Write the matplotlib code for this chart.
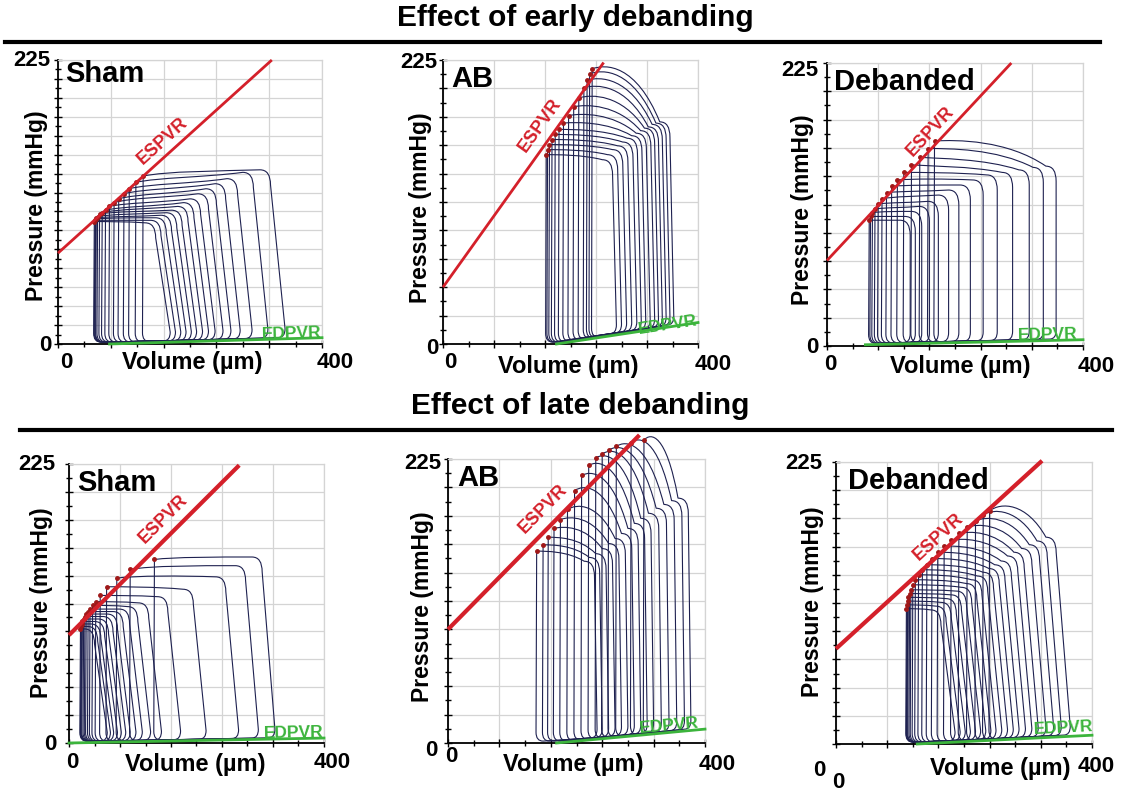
import numpy as np
import matplotlib.pyplot as plt
from matplotlib.path import Path
from matplotlib.patches import PathPatch
from matplotlib.lines import Line2D

plt.rcParams["font.family"] = ["Liberation Sans", "DejaVu Sans"]

W, H = 1130, 793

# ---------------- data (volume in um, pressure in mmHg) ----------------
# early debanding - Sham
sham1_esv = [55, 56, 57, 58, 60, 63, 67, 72, 78, 85, 92, 100, 108, 118, 129]
sham1_esp = [97, 98, 99, 100, 101, 103, 104, 106, 109, 112, 115, 119, 123, 128, 133]
sham1_edv = [170, 178, 186, 194, 202, 210, 219, 228, 238, 250, 262, 276, 294, 318, 344]
sham1_ptr = [96, 98, 100, 102, 104, 106, 109, 112, 115, 119, 123, 127, 131, 136, 138]
sham1_ppk = [97, 98, 100, 101, 103, 105, 107, 109, 112, 116, 119, 123, 127, 132, 137]
sham1_espvr = ([0, 324], [72, 225])
sham1_edpvr = ([78, 400], [0, 5])

# early debanding - AB
ab1_esv = [162, 164, 167, 171, 176, 182, 189, 197, 205, 213, 221, 226, 230, 234]
ab1_esp = [150, 154, 158, 162, 166, 170, 175, 181, 188, 195, 203, 209, 214, 218]
ab1_edv = [272, 280, 288, 296, 304, 311, 318, 325, 332, 338, 344, 350, 356, 362]
ab1_ptr = [146, 150, 154, 157, 160, 163, 165, 167, 169, 171, 172, 174, 175, 176]
ab1_ppk = [150, 154, 158, 162, 166, 170, 176, 183, 190, 198, 206, 212, 218, 222]
ab1_espvr = ([0, 252], [45, 223])
ab1_edpvr = ([178, 400], [0, 17])

# early debanding - Debanded
deb1_esv = [66, 68, 71, 75, 80, 86, 93, 101, 110, 120, 132, 145, 158, 168]
deb1_esp = [100, 103, 106, 109, 113, 117, 122, 127, 132, 138, 144, 150, 157, 163]
deb1_edv = [130, 138, 148, 160, 174, 190, 206, 224, 244, 266, 290, 316, 338, 358]
deb1_ptr = [100, 103, 107, 111, 115, 120, 124, 128, 132, 136, 138, 140, 142, 143]
deb1_ppk = [100, 103, 107, 110, 114, 119, 123, 128, 133, 138, 143, 149, 157, 164]
deb1_espvr = ([0, 288], [68, 225])
deb1_edpvr = ([60, 400], [1, 5])

# late debanding - Sham
sham2_esv = [18, 19, 20, 21, 23, 25, 27, 30, 33, 37, 42, 49, 59, 75, 96, 134]
sham2_esp = [92, 94, 96, 98, 100, 102, 104, 106, 108, 111, 114, 119, 126, 133, 140, 148]
sham2_edv = [60, 65, 70, 76, 82, 89, 96, 105, 115, 128, 145, 175, 215, 266, 297, 323]
sham2_ptr = [92, 94, 96, 98, 100, 102, 104, 106, 108, 110, 113, 118, 124, 134, 143, 150]
sham2_ppk = [92, 94, 96, 98, 100, 102, 104, 106, 108, 111, 114, 119, 126, 135, 143, 150]
sham2_espvr = ([0, 267], [87, 224])
sham2_edpvr = ([0, 400], [0, 4])

# late debanding - AB
ab2_esv = [138, 148, 156, 165, 175, 186, 197, 208, 219, 230, 240, 250, 262, 285, 305]
ab2_esp = [152, 157, 163, 170, 177, 185, 200, 212, 220, 226, 229, 232, 235, 238, 240]
ab2_edv = [232, 240, 250, 260, 270, 280, 290, 300, 310, 320, 332, 344, 356, 368, 378]
ab2_ptr = [144, 147, 150, 154, 158, 162, 166, 170, 174, 178, 182, 186, 189, 192, 194]
ab2_ppk = [152, 157, 163, 172, 180, 190, 205, 216, 224, 230, 234, 237, 240, 243, 246]
ab2_espvr = ([0, 298], [90, 244])
ab2_edpvr = ([169, 400], [0, 11])

# late debanding - Debanded
deb2_esv = [110, 111, 112, 113, 115, 117, 120, 124, 129, 135, 142, 150, 159, 169, 180, 192, 205, 218, 230, 240]
deb2_esp = [108, 111, 114, 117, 120, 123, 127, 131, 135, 139, 143, 148, 153, 158, 163, 168, 173, 178, 183, 186]
deb2_edv = [186, 194, 202, 210, 218, 226, 234, 242, 250, 259, 268, 277, 286, 296, 306, 316, 328, 340, 352, 366]
deb2_ptr = [107, 110, 113, 116, 119, 122, 125, 128, 131, 134, 137, 140, 143, 146, 150, 153, 156, 159, 162, 165]
deb2_ppk = [108, 111, 114, 117, 120, 123, 127, 131, 135, 139, 143, 148, 153, 158, 164, 170, 176, 182, 188, 193]
deb2_espvr = ([0, 322], [76, 226])
deb2_edpvr = ([127, 400], [0, 7])

panels = [
    dict(name="Sham", esv=sham1_esv, esp=sham1_esp, edv=sham1_edv, ptr=sham1_ptr, ppk=sham1_ppk,
         espvr=sham1_espvr, edpvr=sham1_edpvr),
    dict(name="AB", esv=ab1_esv, esp=ab1_esp, edv=ab1_edv, ptr=ab1_ptr, ppk=ab1_ppk,
         espvr=ab1_espvr, edpvr=ab1_edpvr),
    dict(name="Debanded", esv=deb1_esv, esp=deb1_esp, edv=deb1_edv, ptr=deb1_ptr, ppk=deb1_ppk,
         espvr=deb1_espvr, edpvr=deb1_edpvr),
    dict(name="Sham", esv=sham2_esv, esp=sham2_esp, edv=sham2_edv, ptr=sham2_ptr, ppk=sham2_ppk,
         espvr=sham2_espvr, edpvr=sham2_edpvr),
    dict(name="AB", esv=ab2_esv, esp=ab2_esp, edv=ab2_edv, ptr=ab2_ptr, ppk=ab2_ppk,
         espvr=ab2_espvr, edpvr=ab2_edpvr),
    dict(name="Debanded", esv=deb2_esv, esp=deb2_esp, edv=deb2_edv, ptr=deb2_ptr, ppk=deb2_ppk,
         espvr=deb2_espvr, edpvr=deb2_edpvr),
]

# ---------------- layout / style (pixels) ----------------
# axes box: left, right, bottom, top in pixels
boxes = [(58, 322, 344, 60), (443, 698, 344, 60), (827, 1083, 346, 63),
         (69, 324, 743, 464), (448, 705, 743, 459), (836, 1092, 744, 462)]
ystep = [15, 22.5, 22.5, 22.5, 22.5, 22.5]
lean = [22, 6, 0, 20, 4, 22]       # right wall tilt of loops
espvr_lw = [2, 2, 2, 3, 3, 3]
espvr_lab = [(167, 156), (163, 169), (171, 166), (158, 176), (158, 181), (169, 160)]
edpvr_lab = [(354, 8), (353, 15), (345, 9), (352, 8), (345, 14), (356, 13)]

# tick label positions in pixels: "225", y "0", x "0", "400", volume label, pressure label, panel label
txt = [
    dict(t225=(32, 61), y0=(45, 345), x0=(66, 363), x400=(335, 363), vol=(192, 363), pre=(37, 206), lab=(65, 74)),
    dict(t225=(419, 62), y0=(432, 349), x0=(450, 363), x400=(713, 365), vol=(568, 366), pre=(421, 208), lab=(451, 79)),
    dict(t225=(800, 70), y0=(812, 348), x0=(830, 364), x400=(1096, 366), vol=(960, 367), pre=(803, 210), lab=(834, 82)),
    dict(t225=(37, 465), y0=(50, 745), x0=(72, 763), x400=(332, 763), vol=(195, 764), pre=(42, 603), lab=(77, 483)),
    dict(t225=(423, 464), y0=(431, 750), x0=(451, 756), x400=(717, 764), vol=(573, 765), pre=(422, 607), lab=(457, 478)),
    dict(t225=(804, 464), y0=(819, 771), x0=(838, 782), x400=(1096, 766), vol=(1000, 768), pre=(812, 602), lab=(848, 481)),
]

LOOP = "#1e2150"
RED = "#d4202a"
GREEN = "#3cb43c"


def fpos(x, y):
    return x / W, 1 - y / H


def edp_at(v, gv, gp):
    return max(np.interp(v, gv, gp), 0.5) + 1.0


def loop_path(esv, esp, edv, ptr, ppk, tilt, gv, gp):
    r_x, r_y = 10, 7
    v_tr = edv - tilt
    p_l = edp_at(esv, gv, gp)
    p_r = edp_at(edv, gv, gp)
    w = (v_tr - 16) - esv
    verts = [
        (esv, esp),
        (esv - 1, p_l + r_y), (esv - 1, p_l), (esv + r_x, p_l),
        (edv - r_x, p_r), (edv, p_r), (edv, p_r + r_y),
        (v_tr, ptr - 12), (v_tr, ptr), (v_tr - 16, ptr),
        (v_tr - 16 - 0.35 * w, ppk), (esv + 0.2 * w, ppk), (esv, esp),
    ]
    codes = [Path.MOVETO,
             Path.LINETO, Path.CURVE3, Path.CURVE3,
             Path.LINETO, Path.CURVE3, Path.CURVE3,
             Path.LINETO, Path.CURVE3, Path.CURVE3,
             Path.CURVE4, Path.CURVE4, Path.CURVE4]
    return Path(verts, codes)


fig = plt.figure(figsize=(W / 100, H / 100), dpi=100)

for i, p in enumerate(panels):
    l, r, b, t = boxes[i]
    ax = fig.add_axes([l / W, 1 - b / H, (r - l) / W, (b - t) / H])
    ax.set_xlim(0, 400)
    ax.set_ylim(0, 225)

    ax.set_xticks(np.arange(0, 401, 80))
    ax.set_xticks(np.arange(0, 401, 40), minor=True)
    ax.set_yticks(np.arange(0, 225.1, ystep[i]))
    ax.set_yticks(np.arange(0, 225.1, ystep[i] / 2), minor=True)
    ax.grid(True, which="major", color="#d4d4d4", lw=0.9)
    ax.set_axisbelow(True)
    ax.tick_params(which="both", direction="inout", length=6, width=1, labelleft=False, labelbottom=False)
    ax.tick_params(which="minor", length=4)
    for s in ["top", "right"]:
        ax.spines[s].set_color("#d4d4d4")
        ax.spines[s].set_linewidth(0.9)
    for s in ["left", "bottom"]:
        ax.spines[s].set_linewidth(1.3)

    gv, gp = p["edpvr"]
    for k in range(len(p["esv"])):
        path = loop_path(p["esv"][k], p["esp"][k], p["edv"][k], p["ptr"][k], p["ppk"][k], lean[i], gv, gp)
        ax.add_patch(PathPatch(path, fill=False, edgecolor=LOOP, lw=0.8, clip_on=False, zorder=3))
    ax.plot(p["esv"], p["esp"], "o", ms=2.5, color="#a01818", zorder=4, clip_on=False)

    ev, ep = p["espvr"]
    ax.plot(ev, ep, color=RED, lw=espvr_lw[i], zorder=5, clip_on=False, solid_capstyle="butt")
    ax.plot(gv, gp, color=GREEN, lw=2, zorder=5, clip_on=False)

    ang = np.degrees(np.arctan2(ep[1] - ep[0], ev[1] - ev[0]))
    lx, ly = espvr_lab[i]
    ax.text(lx, ly, "ESPVR", color=RED, fontsize=13, fontweight="bold", rotation=ang,
            transform_rotates_text=True, rotation_mode="anchor", ha="center", va="bottom", zorder=6)
    gang = np.degrees(np.arctan2(gp[1] - gp[0], gv[1] - gv[0]))
    lx, ly = edpvr_lab[i]
    ax.text(lx, ly, "EDPVR", color=GREEN, fontsize=12.5, fontweight="bold", rotation=gang,
            transform_rotates_text=True, rotation_mode="anchor", ha="center", va="center", zorder=6)

    tp = txt[i]
    fig.text(*fpos(*tp["t225"]), "225", fontsize=16, fontweight="bold", ha="center", va="center")
    fig.text(*fpos(*tp["y0"]), "0", fontsize=16, fontweight="bold", ha="center", va="center")
    fig.text(*fpos(*tp["x0"]), "0", fontsize=16, fontweight="bold", ha="center", va="center")
    fig.text(*fpos(*tp["x400"]), "400", fontsize=16, fontweight="bold", ha="center", va="center")
    fig.text(*fpos(*tp["vol"]), "Volume (µm)", fontsize=17, fontweight="bold", ha="center", va="center")
    fig.text(*fpos(*tp["pre"]), "Pressure (mmHg)", fontsize=16.5, fontweight="bold", ha="center", va="center",
             rotation=90)
    fig.text(*fpos(*tp["lab"]), p["name"], fontsize=21, fontweight="bold", ha="left", va="center")

# headers
fig.text(*fpos(575, 18), "Effect of early debanding", fontsize=21.5, fontweight="bold", ha="center", va="center")
fig.text(*fpos(580, 406), "Effect of late debanding", fontsize=21.5, fontweight="bold", ha="center", va="center")
fig.add_artist(Line2D([5 / W, 1100 / W], [1 - 42 / H] * 2, lw=3, color="black"))
fig.add_artist(Line2D([20 / W, 1112 / W], [1 - 430 / H] * 2, lw=3, color="black"))

fig.savefig("out.png", dpi=100)
